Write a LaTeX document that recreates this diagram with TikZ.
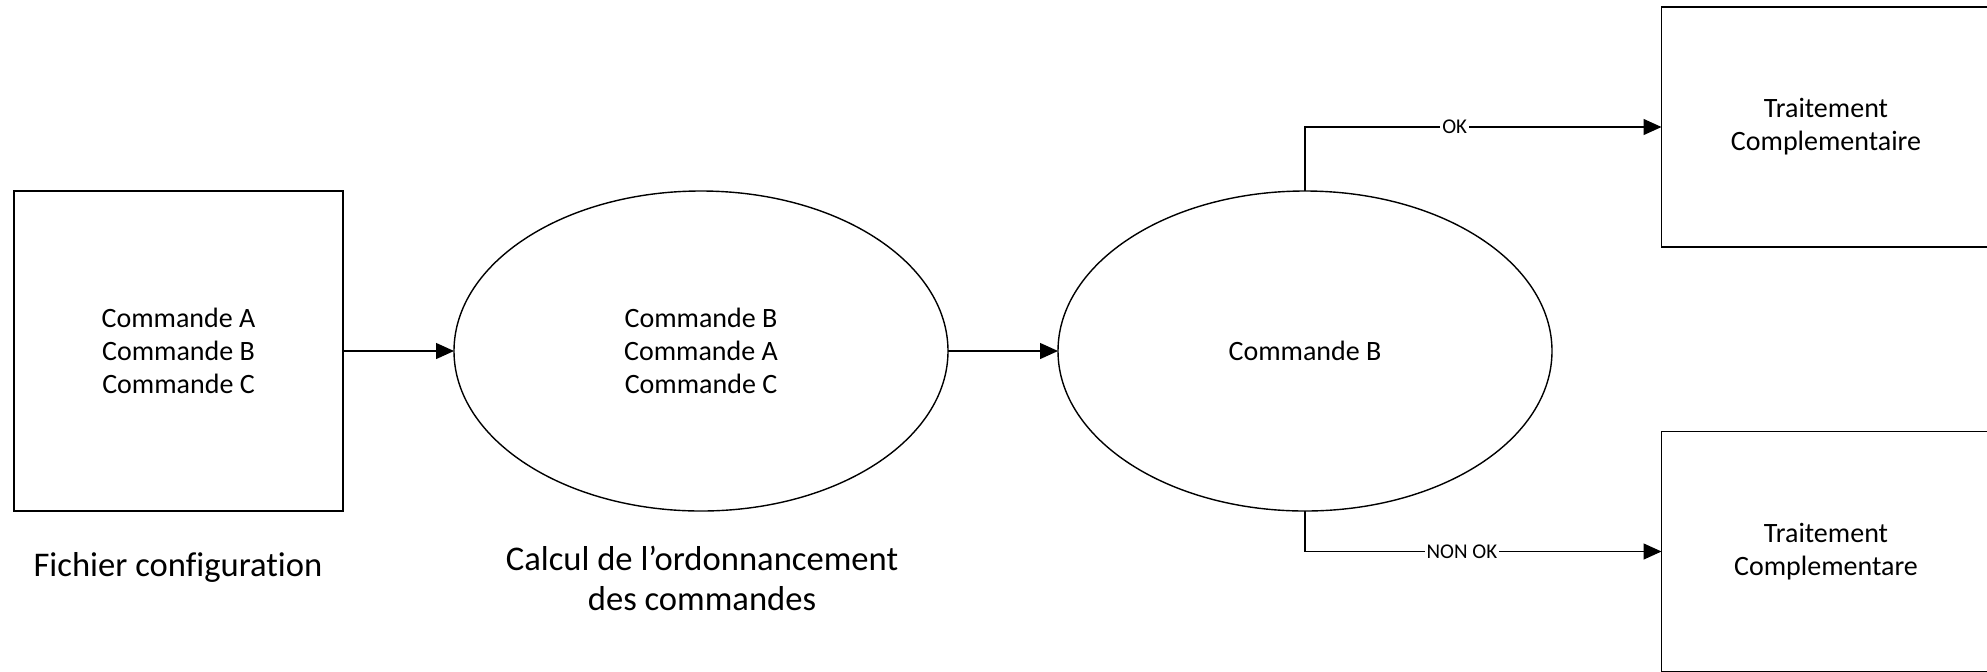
\documentclass[tikz,border=0pt]{standalone}
\usepackage{fontspec}
\setmainfont{Carlito}[Ligatures=NoCommon]
\usetikzlibrary{calc, arrows.meta}
\usetikzlibrary{shapes.geometric}

\tikzset{
  box/.style={draw, rectangle, inner sep=0pt, outer sep=0pt, align=center,
    font=\fontsize{14}{16.5}\selectfont},
  bubble/.style={draw, ellipse, inner sep=0pt, outer sep=0pt, align=center,
    minimum width=247pt, minimum height=160pt,
    font=\fontsize{14}{16.5}\selectfont},
  caption/.style={align=center, font=\fontsize{17.3}{20}\selectfont},
  flowlabel/.style={fill=white, inner sep=1pt, font=\fontsize{10.5}{12}\selectfont}
}

\begin{document}
\begin{tikzpicture}[x=0.5pt, y=-0.5pt, >={Triangle[length=9pt,width=8pt]}, line width=0.7pt]
        \useasboundingbox (0,0) rectangle (1987,671);

        % the input file and the two ellipses
        \node[box, minimum width=164.5pt, minimum height=160pt] (fichier) at (178.5,351)
          {Commande A\\Commande B\\Commande C};
        \node[bubble] (calcul) at (701,351) {Commande B\\Commande A\\Commande C};
        \node[bubble] (cmdb) at (1305,351) {Commande B};

        % the two boxes on the right
        \node[box, minimum width=164.5pt, minimum height=120pt] (okbox) at (1826,127)
          {Traitement\\Complementaire};
        \node[box, minimum width=164.5pt, minimum height=120pt] (nokbox) at (1826,551.5)
          {Traitement\\Complementare};

        % the arrows and labels
        \draw[->] (fichier) -- (calcul);
        \draw[->] (calcul) -- (cmdb);
        \draw[->] (cmdb.north) |- node[flowlabel, pos=0.71] {OK} (okbox.west);
        \draw[->] (cmdb.south) |- node[flowlabel, pos=0.72] {NON OK} (nokbox.west);

        \node[caption] (fichierlabel) at (178,567) {Fichier configuration};
        \node[caption] (calcullabel) at (702,578) {Calcul de l’ordonnancement\\des commandes};
        \end{tikzpicture}
\end{document}
